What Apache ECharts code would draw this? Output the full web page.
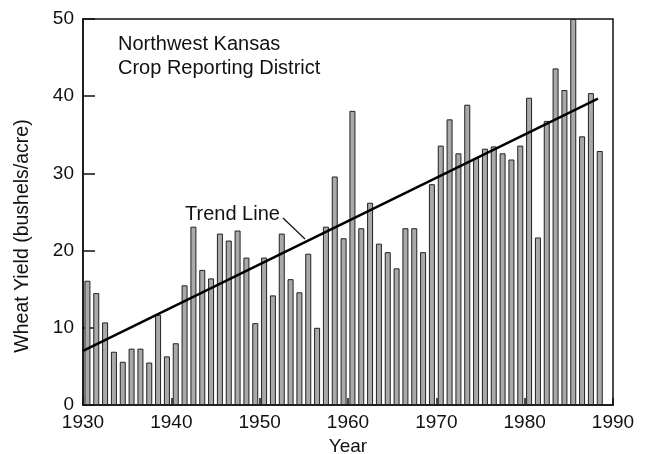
<!DOCTYPE html>
<html>
<head>
<meta charset="utf-8">
<script src="https://cdn.jsdelivr.net/npm/echarts@6/dist/echarts.min.js"></script>
<style>
html,body{margin:0;padding:0;background:#fff;}
#chart{width:647px;height:454px;}
</style>
</head>
<body>
<div id="chart"></div>
<script>
// Data
var years = [];
for (var y = 1930; y <= 1988; y++) years.push(y);
var yields = [
  16.1, 14.5, 10.7, 6.9, 5.6, 7.3, 7.3, 5.5, 11.7, 6.3,
  8.0, 15.5, 23.1, 17.5, 16.4, 22.2, 21.3, 22.6, 19.1, 10.6,
  19.1, 14.2, 22.2, 16.3, 14.6, 19.6, 10.0, 23.1, 29.6, 21.6,
  38.1, 22.9, 26.2, 20.9, 19.8, 17.7, 22.9, 22.9, 19.8, 28.6,
  33.6, 37.0, 32.6, 38.9, 32.0, 33.2, 33.5, 32.6, 31.8, 33.6,
  39.8, 21.7, 36.8, 43.6, 40.8, 50.0, 34.8, 40.4, 32.9
];
var trendYears = [1930, 1988.3];
var trendValues = [7.0, 39.7];
var xTicks = [1930, 1940, 1950, 1960, 1970, 1980, 1990];
var yTicks = [0, 10, 20, 30, 40, 50];
var titleLines = ['Northwest Kansas', 'Crop Reporting District'];
var trendLabel = 'Trend Line';

var FONT = '"Liberation Sans", Arial, Helvetica, sans-serif';

var barData = years.map(function (yr, i) { return [yr + 0.5, yields[i]]; });
var trendData = trendYears.map(function (yr, i) { return [yr, trendValues[i]]; });

var chart = echarts.init(document.getElementById('chart'), null, {renderer: 'canvas'});
chart.setOption({
  backgroundColor: '#fff',
  animation: false,
  grid: {left: 83, right: 34, top: 19, bottom: 49, show: true, borderColor: '#111', borderWidth: 1.5,
         backgroundColor: 'transparent', containLabel: false, outerBoundsMode: 'none'},
  xAxis: {
    type: 'value', min: xTicks[0], max: xTicks[xTicks.length - 1], interval: 10,
    name: 'Year', nameLocation: 'middle', nameGap: 31,
    nameTextStyle: {fontFamily: FONT, fontSize: 19, color: '#111'},
    axisLine: {show: true, lineStyle: {color: '#111', width: 1.5}},
    axisTick: {show: true, inside: true, length: 7, lineStyle: {color: '#111', width: 1.5}},
    axisLabel: {fontFamily: FONT, fontSize: 19, color: '#111', margin: 8,
      formatter: function (v) { return String(v); }},
    splitLine: {show: false}
  },
  yAxis: {
    type: 'value', min: yTicks[0], max: yTicks[yTicks.length - 1], interval: 10,
    axisLine: {show: true, lineStyle: {color: '#111', width: 1.5}},
    axisTick: {show: true, inside: true, length: 12, lineStyle: {color: '#111', width: 1.5}},
    axisLabel: {fontFamily: FONT, fontSize: 19, color: '#111', margin: 9,
      formatter: function (v) { return String(v); }},
    splitLine: {show: false}
  },
  series: [
    {
      type: 'bar', data: barData, barWidth: 6,
      itemStyle: {color: '#a9a9a9', borderColor: '#222', borderWidth: 1}
    },
    {
      type: 'line', data: trendData, symbol: 'none', z: 5,
      lineStyle: {color: '#000', width: 2.5}
    }
  ],
  graphic: [
    {type: 'text', left: 118, top: 32, style: {text: titleLines.join('\n'), font: '20px ' + FONT, fill: '#111', lineHeight: 24}},
    {type: 'text', left: 185, top: 204, style: {text: trendLabel, font: '20px ' + FONT, fill: '#111'}},
    {type: 'line', shape: {x1: 283, y1: 218, x2: 305, y2: 239}, style: {stroke: '#111', lineWidth: 1.2}},
    {type: 'text', x: 23, y: 236, rotation: Math.PI / 2,
     style: {text: 'Wheat Yield (bushels/acre)', font: '19.5px ' + FONT, fill: '#111', align: 'center', verticalAlign: 'middle'}}
  ]
});
</script>
</body>
</html>
